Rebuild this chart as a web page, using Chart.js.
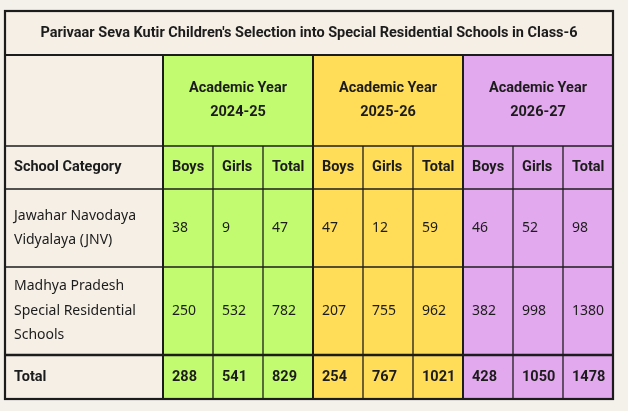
<!DOCTYPE html>
<html>
<head>
<meta charset="utf-8">
<script src="https://cdn.jsdelivr.net/npm/chart.js@4"></script>
<style>
  html, body { margin:0; padding:0; background:#f4f0ea; }
  #wrap { width:628px; height:411px; }
</style>
</head>
<body>
<div id="wrap"><canvas id="tbl"></canvas></div>
<script>
// table data
const title = "Parivaar Seva Kutir Children's Selection into Special Residential Schools in Class-6";
const yearLabels = ['2024-25', '2025-26', '2026-27'];
const subHeaders = ['Boys', 'Girls', 'Total'];
const categories = [
  ['Jawahar Navodaya', 'Vidyalaya (JNV)'],
  ['Madhya Pradesh', 'Special Residential', 'Schools']
];
const jnvValues = [38, 9, 47, 47, 12, 59, 46, 52, 98];
const mpValues = [250, 532, 782, 207, 755, 962, 382, 998, 1380];
const totalValues = [288, 541, 829, 254, 767, 1021, 428, 1050, 1478];

// layout (table units on the chart's linear scales)
const colEdges = [5, 163, 213, 263, 313, 363, 413, 463, 513, 563, 613];
const rowEdges = [11, 55, 146, 189, 267, 355, 399];
const yearFills = ['#c2fb6f', '#ffdd59', '#e2a9ee'];
const cream = '#f5efe6';
const ink = '#1c1c1c';
const boldFont = 'bold 14.5px Roboto, Inter, sans-serif';
const plainFont = '14px "Noto Sans", "Open Sans", sans-serif';
const lineGap = 24.5;

const tablePlugin = {
  id: 'tablePlugin',
  afterDraw(chart) {
    const ctx = chart.ctx;
    const xs = chart.scales.x, ys = chart.scales.y;
    const X = v => xs.getPixelForValue(v);
    const Y = v => ys.getPixelForValue(v);
    const L = colEdges[0], R = colEdges[colEdges.length - 1];

    // backgrounds
    ctx.save();
    ctx.fillStyle = cream;
    ctx.fillRect(X(L), Y(rowEdges[0]), X(R) - X(L), Y(rowEdges[6]) - Y(rowEdges[0]));
    yearFills.forEach((c, i) => {
      ctx.fillStyle = c;
      const x0 = colEdges[1 + i * 3], x1 = colEdges[4 + i * 3];
      ctx.fillRect(X(x0), Y(rowEdges[1]), X(x1) - X(x0), Y(rowEdges[6]) - Y(rowEdges[1]));
    });

    // grid lines
    ctx.strokeStyle = ink;
    const hline = (y, x0, x1, w) => { ctx.lineWidth = w; ctx.beginPath(); ctx.moveTo(X(x0), Y(y)); ctx.lineTo(X(x1), Y(y)); ctx.stroke(); };
    const vline = (x, y0, y1, w) => { ctx.lineWidth = w; ctx.beginPath(); ctx.moveTo(X(x), Y(y0)); ctx.lineTo(X(x), Y(y1)); ctx.stroke(); };
    hline(rowEdges[1], L, R, 2);
    hline(rowEdges[2], L, R, 1.3);
    hline(rowEdges[3], L, R, 1.3);
    hline(rowEdges[4], L, R, 1.3);
    hline(rowEdges[5], L, R, 2.6);
    colEdges.slice(1, -1).forEach((x, i) => {
      const group = (i % 3 === 0);
      vline(x, group ? rowEdges[1] : rowEdges[2], rowEdges[6], group ? 2 : 1.3);
    });
    ctx.lineWidth = 2.2;
    ctx.strokeRect(X(L), Y(rowEdges[0]), X(R) - X(L), Y(rowEdges[6]) - Y(rowEdges[0]));

    // texts
    ctx.fillStyle = ink;
    ctx.textBaseline = 'middle';
    const mid = (a, b) => (a + b) / 2;
    const lines = (arr, x, yc, align, font) => {
      ctx.font = font; ctx.textAlign = align;
      const top = yc - (arr.length - 1) * lineGap / 2;
      arr.forEach((t, k) => ctx.fillText(t, X(x), Y(top + k * lineGap)));
    };
    const pad = 9;

    lines([title], mid(L, R), mid(rowEdges[0], rowEdges[1]), 'center', boldFont);
    yearLabels.forEach((yl, i) => {
      lines(['Academic Year', yl], mid(colEdges[1 + i * 3], colEdges[4 + i * 3]), mid(rowEdges[1], rowEdges[2]), 'center', boldFont);
    });
    lines(['School Category'], L + pad, mid(rowEdges[2], rowEdges[3]), 'left', boldFont);
    for (let c = 0; c < 9; c++) {
      lines([subHeaders[c % 3]], colEdges[c + 1] + pad, mid(rowEdges[2], rowEdges[3]), 'left', boldFont);
    }
    const bodyRows = [jnvValues, mpValues];
    bodyRows.forEach((vals, r) => {
      const yc = mid(rowEdges[3 + r], rowEdges[4 + r]);
      lines(categories[r], L + pad, yc, 'left', plainFont);
      vals.forEach((v, c) => lines([String(v)], colEdges[c + 1] + pad, yc, 'left', plainFont));
    });
    const yt = mid(rowEdges[5], rowEdges[6]);
    lines(['Total'], L + pad, yt, 'left', boldFont);
    totalValues.forEach((v, c) => lines([String(v)], colEdges[c + 1] + pad, yt, 'left', boldFont));
    ctx.restore();
  }
};

new Chart(document.getElementById('tbl').getContext('2d'), {
  type: 'scatter',
  data: { datasets: [{ data: [] }] },
  options: {
    responsive: true,
    maintainAspectRatio: false,
    animation: false,
    events: [],
    layout: { padding: 0 },
    plugins: { legend: { display: false }, tooltip: { enabled: false } },
    scales: {
      x: { type: 'linear', min: 0, max: 628, display: false },
      y: { type: 'linear', min: 0, max: 411, reverse: true, display: false }
    }
  },
  plugins: [tablePlugin]
});
</script>
</body>
</html>
